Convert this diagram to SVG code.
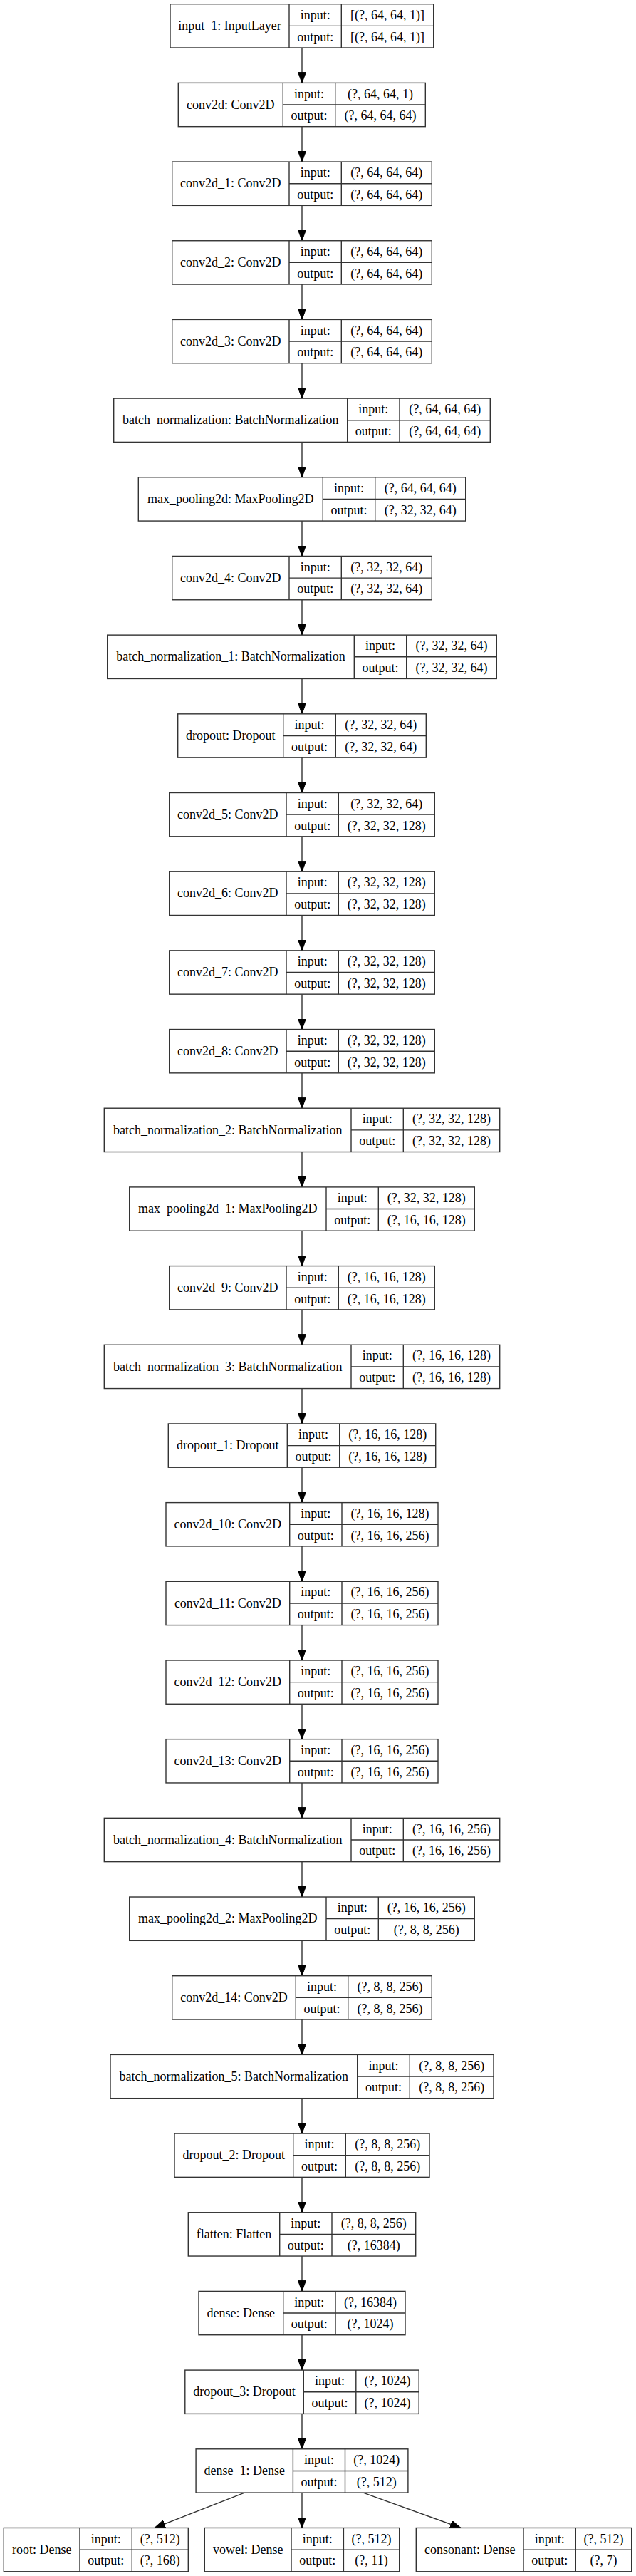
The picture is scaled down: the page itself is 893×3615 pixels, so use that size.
<svg xmlns="http://www.w3.org/2000/svg" width="893" height="3615" viewBox="0 0 893 3615">
<style>
.b{fill:#fff;stroke:#333;stroke-width:1.4}
.d{fill:none;stroke:#333;stroke-width:1.4}
.e{fill:none;stroke:#333;stroke-width:1.4}
.t{font-family:"Liberation Serif","Times New Roman",serif;font-size:18px;text-anchor:middle;fill:#000}
</style>
<defs>
<marker id="ah" viewBox="0 0 15 11" refX="15" refY="5.5" markerWidth="15" markerHeight="11" orient="auto" markerUnits="userSpaceOnUse">
<path d="M0,0 L15,5.5 L0,11 z" fill="#000" stroke="#000" stroke-width="1"/>
</marker>
</defs>
<rect width="893" height="3615" fill="#fff"/>
<g id="connectors">
<path class="e" marker-end="url(#ah)" d="M424,67 V116.4"/>
<path class="e" marker-end="url(#ah)" d="M424,177.7 V227.1"/>
<path class="e" marker-end="url(#ah)" d="M424,288.4 V337.7"/>
<path class="e" marker-end="url(#ah)" d="M424,399 V448.4"/>
<path class="e" marker-end="url(#ah)" d="M424,509.7 V559.1"/>
<path class="e" marker-end="url(#ah)" d="M424,620.4 V669.8"/>
<path class="e" marker-end="url(#ah)" d="M424,731.1 V780.5"/>
<path class="e" marker-end="url(#ah)" d="M424,841.8 V891.1"/>
<path class="e" marker-end="url(#ah)" d="M424,952.4 V1001.8"/>
<path class="e" marker-end="url(#ah)" d="M424,1063.1 V1112.5"/>
<path class="e" marker-end="url(#ah)" d="M424,1173.8 V1223.2"/>
<path class="e" marker-end="url(#ah)" d="M424,1284.5 V1333.9"/>
<path class="e" marker-end="url(#ah)" d="M424,1395.2 V1444.5"/>
<path class="e" marker-end="url(#ah)" d="M424,1505.8 V1555.2"/>
<path class="e" marker-end="url(#ah)" d="M424,1616.5 V1665.9"/>
<path class="e" marker-end="url(#ah)" d="M424,1727.2 V1776.6"/>
<path class="e" marker-end="url(#ah)" d="M424,1837.9 V1887.3"/>
<path class="e" marker-end="url(#ah)" d="M424,1948.6 V1997.9"/>
<path class="e" marker-end="url(#ah)" d="M424,2059.2 V2108.6"/>
<path class="e" marker-end="url(#ah)" d="M424,2169.9 V2219.3"/>
<path class="e" marker-end="url(#ah)" d="M424,2280.6 V2330"/>
<path class="e" marker-end="url(#ah)" d="M424,2391.3 V2440.7"/>
<path class="e" marker-end="url(#ah)" d="M424,2502 V2551.3"/>
<path class="e" marker-end="url(#ah)" d="M424,2612.6 V2662"/>
<path class="e" marker-end="url(#ah)" d="M424,2723.3 V2772.7"/>
<path class="e" marker-end="url(#ah)" d="M424,2834 V2883.4"/>
<path class="e" marker-end="url(#ah)" d="M424,2944.7 V2994.1"/>
<path class="e" marker-end="url(#ah)" d="M424,3055.4 V3104.7"/>
<path class="e" marker-end="url(#ah)" d="M424,3166 V3215.4"/>
<path class="e" marker-end="url(#ah)" d="M424,3276.7 V3326.1"/>
<path class="e" marker-end="url(#ah)" d="M424,3387.4 V3436.8"/>
<path class="e" marker-end="url(#ah)" d="M343.3,3498.1 L217,3547.5"/>
<path class="e" marker-end="url(#ah)" d="M424,3498.1 V3547.5"/>
<path class="e" marker-end="url(#ah)" d="M510,3498.1 L647,3547.5"/>
</g>
<g id="input_1" transform="translate(0,5.7)"><rect class="b" x="239" y="0" width="369.7" height="61.3"/><path class="d" d="M406,0V61.3M479.3,0V61.3M406,30.65H608.7"/><text class="t" x="322.5" y="36.3">input_1: InputLayer</text><text class="t" x="442.7" y="21.2">input:</text><text class="t" x="442.7" y="52">output:</text><text class="t" x="544" y="21.2">[(?, 64, 64, 1)]</text><text class="t" x="544" y="52">[(?, 64, 64, 1)]</text></g>
<g id="conv2d" transform="translate(0,116.38)"><rect class="b" x="250.3" y="0" width="347" height="61.3"/><path class="d" d="M397.3,0V61.3M470.7,0V61.3M397.3,30.65H597.3"/><text class="t" x="323.8" y="36.3">conv2d: Conv2D</text><text class="t" x="434" y="21.2">input:</text><text class="t" x="434" y="52">output:</text><text class="t" x="534" y="21.2">(?, 64, 64, 1)</text><text class="t" x="534" y="52">(?, 64, 64, 64)</text></g>
<g id="conv2d_1" transform="translate(0,227.06)"><rect class="b" x="241.7" y="0" width="364.6" height="61.3"/><path class="d" d="M406,0V61.3M479.3,0V61.3M406,30.65H606.3"/><text class="t" x="323.8" y="36.3">conv2d_1: Conv2D</text><text class="t" x="442.7" y="21.2">input:</text><text class="t" x="442.7" y="52">output:</text><text class="t" x="542.8" y="21.2">(?, 64, 64, 64)</text><text class="t" x="542.8" y="52">(?, 64, 64, 64)</text></g>
<g id="conv2d_2" transform="translate(0,337.74)"><rect class="b" x="241.7" y="0" width="364.6" height="61.3"/><path class="d" d="M406,0V61.3M479.3,0V61.3M406,30.65H606.3"/><text class="t" x="323.8" y="36.3">conv2d_2: Conv2D</text><text class="t" x="442.7" y="21.2">input:</text><text class="t" x="442.7" y="52">output:</text><text class="t" x="542.8" y="21.2">(?, 64, 64, 64)</text><text class="t" x="542.8" y="52">(?, 64, 64, 64)</text></g>
<g id="conv2d_3" transform="translate(0,448.42)"><rect class="b" x="241.7" y="0" width="364.6" height="61.3"/><path class="d" d="M406,0V61.3M479.3,0V61.3M406,30.65H606.3"/><text class="t" x="323.8" y="36.3">conv2d_3: Conv2D</text><text class="t" x="442.7" y="21.2">input:</text><text class="t" x="442.7" y="52">output:</text><text class="t" x="542.8" y="21.2">(?, 64, 64, 64)</text><text class="t" x="542.8" y="52">(?, 64, 64, 64)</text></g>
<g id="batch_normalization" transform="translate(0,559.1)"><rect class="b" x="159.7" y="0" width="528.6" height="61.3"/><path class="d" d="M487.7,0V61.3M561,0V61.3M487.7,30.65H688.3"/><text class="t" x="323.7" y="36.3">batch_normalization: BatchNormalization</text><text class="t" x="524.3" y="21.2">input:</text><text class="t" x="524.3" y="52">output:</text><text class="t" x="624.7" y="21.2">(?, 64, 64, 64)</text><text class="t" x="624.7" y="52">(?, 64, 64, 64)</text></g>
<g id="max_pooling2d" transform="translate(0,669.78)"><rect class="b" x="194.3" y="0" width="459.4" height="61.3"/><path class="d" d="M453.3,0V61.3M526.7,0V61.3M453.3,30.65H653.7"/><text class="t" x="323.8" y="36.3">max_pooling2d: MaxPooling2D</text><text class="t" x="490" y="21.2">input:</text><text class="t" x="490" y="52">output:</text><text class="t" x="590.2" y="21.2">(?, 64, 64, 64)</text><text class="t" x="590.2" y="52">(?, 32, 32, 64)</text></g>
<g id="conv2d_4" transform="translate(0,780.46)"><rect class="b" x="241.7" y="0" width="364.6" height="61.3"/><path class="d" d="M406,0V61.3M479.3,0V61.3M406,30.65H606.3"/><text class="t" x="323.8" y="36.3">conv2d_4: Conv2D</text><text class="t" x="442.7" y="21.2">input:</text><text class="t" x="442.7" y="52">output:</text><text class="t" x="542.8" y="21.2">(?, 32, 32, 64)</text><text class="t" x="542.8" y="52">(?, 32, 32, 64)</text></g>
<g id="batch_normalization_1" transform="translate(0,891.14)"><rect class="b" x="150.7" y="0" width="546.6" height="61.3"/><path class="d" d="M497.3,0V61.3M570.7,0V61.3M497.3,30.65H697.3"/><text class="t" x="324" y="36.3">batch_normalization_1: BatchNormalization</text><text class="t" x="534" y="21.2">input:</text><text class="t" x="534" y="52">output:</text><text class="t" x="634" y="21.2">(?, 32, 32, 64)</text><text class="t" x="634" y="52">(?, 32, 32, 64)</text></g>
<g id="dropout" transform="translate(0,1001.82)"><rect class="b" x="249.7" y="0" width="348.6" height="61.3"/><path class="d" d="M397.7,0V61.3M471.3,0V61.3M397.7,30.65H598.3"/><text class="t" x="323.7" y="36.3">dropout: Dropout</text><text class="t" x="434.5" y="21.2">input:</text><text class="t" x="434.5" y="52">output:</text><text class="t" x="534.8" y="21.2">(?, 32, 32, 64)</text><text class="t" x="534.8" y="52">(?, 32, 32, 64)</text></g>
<g id="conv2d_5" transform="translate(0,1112.5)"><rect class="b" x="237.7" y="0" width="372.6" height="61.3"/><path class="d" d="M402,0V61.3M475.3,0V61.3M402,30.65H610.3"/><text class="t" x="319.8" y="36.3">conv2d_5: Conv2D</text><text class="t" x="438.7" y="21.2">input:</text><text class="t" x="438.7" y="52">output:</text><text class="t" x="542.8" y="21.2">(?, 32, 32, 64)</text><text class="t" x="542.8" y="52">(?, 32, 32, 128)</text></g>
<g id="conv2d_6" transform="translate(0,1223.18)"><rect class="b" x="237.7" y="0" width="372.6" height="61.3"/><path class="d" d="M402,0V61.3M475.3,0V61.3M402,30.65H610.3"/><text class="t" x="319.8" y="36.3">conv2d_6: Conv2D</text><text class="t" x="438.7" y="21.2">input:</text><text class="t" x="438.7" y="52">output:</text><text class="t" x="542.8" y="21.2">(?, 32, 32, 128)</text><text class="t" x="542.8" y="52">(?, 32, 32, 128)</text></g>
<g id="conv2d_7" transform="translate(0,1333.86)"><rect class="b" x="237.7" y="0" width="372.6" height="61.3"/><path class="d" d="M402,0V61.3M475.3,0V61.3M402,30.65H610.3"/><text class="t" x="319.8" y="36.3">conv2d_7: Conv2D</text><text class="t" x="438.7" y="21.2">input:</text><text class="t" x="438.7" y="52">output:</text><text class="t" x="542.8" y="21.2">(?, 32, 32, 128)</text><text class="t" x="542.8" y="52">(?, 32, 32, 128)</text></g>
<g id="conv2d_8" transform="translate(0,1444.54)"><rect class="b" x="237.7" y="0" width="372.6" height="61.3"/><path class="d" d="M402,0V61.3M475.3,0V61.3M402,30.65H610.3"/><text class="t" x="319.8" y="36.3">conv2d_8: Conv2D</text><text class="t" x="438.7" y="21.2">input:</text><text class="t" x="438.7" y="52">output:</text><text class="t" x="542.8" y="21.2">(?, 32, 32, 128)</text><text class="t" x="542.8" y="52">(?, 32, 32, 128)</text></g>
<g id="batch_normalization_2" transform="translate(0,1555.22)"><rect class="b" x="146.3" y="0" width="555.4" height="61.3"/><path class="d" d="M493,0V61.3M566.3,0V61.3M493,30.65H701.7"/><text class="t" x="319.7" y="36.3">batch_normalization_2: BatchNormalization</text><text class="t" x="529.7" y="21.2">input:</text><text class="t" x="529.7" y="52">output:</text><text class="t" x="634" y="21.2">(?, 32, 32, 128)</text><text class="t" x="634" y="52">(?, 32, 32, 128)</text></g>
<g id="max_pooling2d_1" transform="translate(0,1665.9)"><rect class="b" x="181.7" y="0" width="484.6" height="61.3"/><path class="d" d="M458,0V61.3M531.3,0V61.3M458,30.65H666.3"/><text class="t" x="319.8" y="36.3">max_pooling2d_1: MaxPooling2D</text><text class="t" x="494.7" y="21.2">input:</text><text class="t" x="494.7" y="52">output:</text><text class="t" x="598.8" y="21.2">(?, 32, 32, 128)</text><text class="t" x="598.8" y="52">(?, 16, 16, 128)</text></g>
<g id="conv2d_9" transform="translate(0,1776.58)"><rect class="b" x="237.7" y="0" width="372.6" height="61.3"/><path class="d" d="M402,0V61.3M475.3,0V61.3M402,30.65H610.3"/><text class="t" x="319.8" y="36.3">conv2d_9: Conv2D</text><text class="t" x="438.7" y="21.2">input:</text><text class="t" x="438.7" y="52">output:</text><text class="t" x="542.8" y="21.2">(?, 16, 16, 128)</text><text class="t" x="542.8" y="52">(?, 16, 16, 128)</text></g>
<g id="batch_normalization_3" transform="translate(0,1887.26)"><rect class="b" x="146.3" y="0" width="555.4" height="61.3"/><path class="d" d="M493,0V61.3M566.3,0V61.3M493,30.65H701.7"/><text class="t" x="319.7" y="36.3">batch_normalization_3: BatchNormalization</text><text class="t" x="529.7" y="21.2">input:</text><text class="t" x="529.7" y="52">output:</text><text class="t" x="634" y="21.2">(?, 16, 16, 128)</text><text class="t" x="634" y="52">(?, 16, 16, 128)</text></g>
<g id="dropout_1" transform="translate(0,1997.94)"><rect class="b" x="236.3" y="0" width="375.4" height="61.3"/><path class="d" d="M403.3,0V61.3M476.7,0V61.3M403.3,30.65H611.7"/><text class="t" x="319.8" y="36.3">dropout_1: Dropout</text><text class="t" x="440" y="21.2">input:</text><text class="t" x="440" y="52">output:</text><text class="t" x="544.2" y="21.2">(?, 16, 16, 128)</text><text class="t" x="544.2" y="52">(?, 16, 16, 128)</text></g>
<g id="conv2d_10" transform="translate(0,2108.62)"><rect class="b" x="233" y="0" width="382" height="61.3"/><path class="d" d="M406.7,0V61.3M480,0V61.3M406.7,30.65H615"/><text class="t" x="319.8" y="36.3">conv2d_10: Conv2D</text><text class="t" x="443.3" y="21.2">input:</text><text class="t" x="443.3" y="52">output:</text><text class="t" x="547.5" y="21.2">(?, 16, 16, 128)</text><text class="t" x="547.5" y="52">(?, 16, 16, 256)</text></g>
<g id="conv2d_11" transform="translate(0,2219.3)"><rect class="b" x="233" y="0" width="382" height="61.3"/><path class="d" d="M406.7,0V61.3M480,0V61.3M406.7,30.65H615"/><text class="t" x="319.8" y="36.3">conv2d_11: Conv2D</text><text class="t" x="443.3" y="21.2">input:</text><text class="t" x="443.3" y="52">output:</text><text class="t" x="547.5" y="21.2">(?, 16, 16, 256)</text><text class="t" x="547.5" y="52">(?, 16, 16, 256)</text></g>
<g id="conv2d_12" transform="translate(0,2329.98)"><rect class="b" x="233" y="0" width="382" height="61.3"/><path class="d" d="M406.7,0V61.3M480,0V61.3M406.7,30.65H615"/><text class="t" x="319.8" y="36.3">conv2d_12: Conv2D</text><text class="t" x="443.3" y="21.2">input:</text><text class="t" x="443.3" y="52">output:</text><text class="t" x="547.5" y="21.2">(?, 16, 16, 256)</text><text class="t" x="547.5" y="52">(?, 16, 16, 256)</text></g>
<g id="conv2d_13" transform="translate(0,2440.66)"><rect class="b" x="233" y="0" width="382" height="61.3"/><path class="d" d="M406.7,0V61.3M480,0V61.3M406.7,30.65H615"/><text class="t" x="319.8" y="36.3">conv2d_13: Conv2D</text><text class="t" x="443.3" y="21.2">input:</text><text class="t" x="443.3" y="52">output:</text><text class="t" x="547.5" y="21.2">(?, 16, 16, 256)</text><text class="t" x="547.5" y="52">(?, 16, 16, 256)</text></g>
<g id="batch_normalization_4" transform="translate(0,2551.34)"><rect class="b" x="146.3" y="0" width="555.4" height="61.3"/><path class="d" d="M493,0V61.3M566.3,0V61.3M493,30.65H701.7"/><text class="t" x="319.7" y="36.3">batch_normalization_4: BatchNormalization</text><text class="t" x="529.7" y="21.2">input:</text><text class="t" x="529.7" y="52">output:</text><text class="t" x="634" y="21.2">(?, 16, 16, 256)</text><text class="t" x="634" y="52">(?, 16, 16, 256)</text></g>
<g id="max_pooling2d_2" transform="translate(0,2662.02)"><rect class="b" x="181.7" y="0" width="484.6" height="61.3"/><path class="d" d="M458,0V61.3M531.3,0V61.3M458,30.65H666.3"/><text class="t" x="319.8" y="36.3">max_pooling2d_2: MaxPooling2D</text><text class="t" x="494.7" y="21.2">input:</text><text class="t" x="494.7" y="52">output:</text><text class="t" x="598.8" y="21.2">(?, 16, 16, 256)</text><text class="t" x="598.8" y="52">(?, 8, 8, 256)</text></g>
<g id="conv2d_14" transform="translate(0,2772.7)"><rect class="b" x="241.7" y="0" width="364.6" height="61.3"/><path class="d" d="M415.3,0V61.3M488.7,0V61.3M415.3,30.65H606.3"/><text class="t" x="328.5" y="36.3">conv2d_14: Conv2D</text><text class="t" x="452" y="21.2">input:</text><text class="t" x="452" y="52">output:</text><text class="t" x="547.5" y="21.2">(?, 8, 8, 256)</text><text class="t" x="547.5" y="52">(?, 8, 8, 256)</text></g>
<g id="batch_normalization_5" transform="translate(0,2883.38)"><rect class="b" x="155" y="0" width="538" height="61.3"/><path class="d" d="M501.7,0V61.3M575.3,0V61.3M501.7,30.65H693"/><text class="t" x="328.3" y="36.3">batch_normalization_5: BatchNormalization</text><text class="t" x="538.5" y="21.2">input:</text><text class="t" x="538.5" y="52">output:</text><text class="t" x="634.2" y="21.2">(?, 8, 8, 256)</text><text class="t" x="634.2" y="52">(?, 8, 8, 256)</text></g>
<g id="dropout_2" transform="translate(0,2994.06)"><rect class="b" x="245" y="0" width="358" height="61.3"/><path class="d" d="M411.7,0V61.3M485.3,0V61.3M411.7,30.65H603"/><text class="t" x="328.3" y="36.3">dropout_2: Dropout</text><text class="t" x="448.5" y="21.2">input:</text><text class="t" x="448.5" y="52">output:</text><text class="t" x="544.2" y="21.2">(?, 8, 8, 256)</text><text class="t" x="544.2" y="52">(?, 8, 8, 256)</text></g>
<g id="flatten" transform="translate(0,3104.74)"><rect class="b" x="264.3" y="0" width="319.4" height="61.3"/><path class="d" d="M392.7,0V61.3M466,0V61.3M392.7,30.65H583.7"/><text class="t" x="328.5" y="36.3">flatten: Flatten</text><text class="t" x="429.3" y="21.2">input:</text><text class="t" x="429.3" y="52">output:</text><text class="t" x="524.8" y="21.2">(?, 8, 8, 256)</text><text class="t" x="524.8" y="52">(?, 16384)</text></g>
<g id="dense" transform="translate(0,3215.42)"><rect class="b" x="279" y="0" width="290" height="61.3"/><path class="d" d="M397.7,0V61.3M471,0V61.3M397.7,30.65H569"/><text class="t" x="338.3" y="36.3">dense: Dense</text><text class="t" x="434.3" y="21.2">input:</text><text class="t" x="434.3" y="52">output:</text><text class="t" x="520" y="21.2">(?, 16384)</text><text class="t" x="520" y="52">(?, 1024)</text></g>
<g id="dropout_3" transform="translate(0,3326.1)"><rect class="b" x="259.8" y="0" width="328.4" height="61.3"/><path class="d" d="M426.3,0V61.3M499.8,0V61.3M426.3,30.65H588.2"/><text class="t" x="343" y="36.3">dropout_3: Dropout</text><text class="t" x="463" y="21.2">input:</text><text class="t" x="463" y="52">output:</text><text class="t" x="544" y="21.2">(?, 1024)</text><text class="t" x="544" y="52">(?, 1024)</text></g>
<g id="dense_1" transform="translate(0,3436.78)"><rect class="b" x="275.1" y="0" width="297.8" height="61.3"/><path class="d" d="M411.4,0V61.3M484.5,0V61.3M411.4,30.65H572.9"/><text class="t" x="343.2" y="36.3">dense_1: Dense</text><text class="t" x="448" y="21.2">input:</text><text class="t" x="448" y="52">output:</text><text class="t" x="528.7" y="21.2">(?, 1024)</text><text class="t" x="528.7" y="52">(?, 512)</text></g>
<g id="root" transform="translate(0,3547.46)"><rect class="b" x="5.3" y="0" width="259" height="61.3"/><path class="d" d="M112,0V61.3M185.3,0V61.3M112,30.65H264.3"/><text class="t" x="58.7" y="36.3">root: Dense</text><text class="t" x="148.7" y="21.2">input:</text><text class="t" x="148.7" y="52">output:</text><text class="t" x="224.8" y="21.2">(?, 512)</text><text class="t" x="224.8" y="52">(?, 168)</text></g>
<g id="vowel" transform="translate(0,3547.46)"><rect class="b" x="287.3" y="0" width="273.4" height="61.3"/><path class="d" d="M409,0V61.3M482.4,0V61.3M409,30.65H560.7"/><text class="t" x="348.2" y="36.3">vowel: Dense</text><text class="t" x="445.7" y="21.2">input:</text><text class="t" x="445.7" y="52">output:</text><text class="t" x="521.5" y="21.2">(?, 512)</text><text class="t" x="521.5" y="52">(?, 11)</text></g>
<g id="consonant" transform="translate(0,3547.46)"><rect class="b" x="584.3" y="0" width="302.4" height="61.3"/><path class="d" d="M735,0V61.3M808.3,0V61.3M735,30.65H886.7"/><text class="t" x="659.7" y="36.3">consonant: Dense</text><text class="t" x="771.7" y="21.2">input:</text><text class="t" x="771.7" y="52">output:</text><text class="t" x="847.5" y="21.2">(?, 512)</text><text class="t" x="847.5" y="52">(?, 7)</text></g>
</svg>
